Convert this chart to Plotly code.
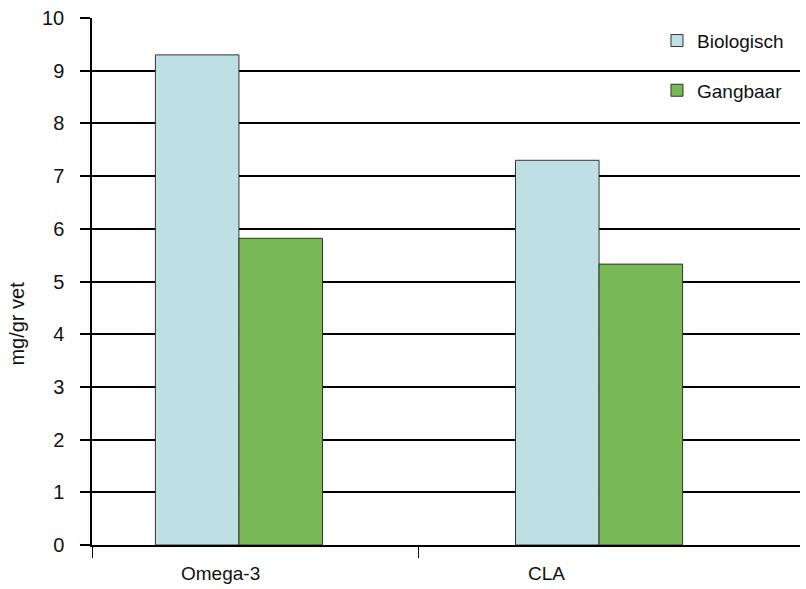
import plotly.graph_objects as go

# Fatty acid content per gram of fat, organic vs conventional
categories = ["Omega-3", "CLA"]
biologisch = [9.3, 7.3]
gangbaar = [5.82, 5.33]
y_ticks = list(range(0, 11))
y_title = "mg/gr vet"

FONT = "Liberation Sans, Arial, sans-serif"

pos = list(range(len(categories)))

fig = go.Figure()
fig.add_trace(go.Bar(
    x=pos, y=biologisch, name="Biologisch", legendgroup="a",
    marker=dict(color="#BEE0E4", line=dict(color="#333333", width=1)),
))
fig.add_trace(go.Bar(
    x=pos, y=gangbaar, name="Gangbaar", legendgroup="b",
    marker=dict(color="#79B955", line=dict(color="#333333", width=1)),
))

x_lo, x_hi = -0.408, 1.558

# category names sit slightly left of their bar groups
label_pos = [-0.05, 0.853]
for p, name in zip(label_pos, categories):
    fig.add_annotation(x=p, y=0, xref="x", yref="y", text=name, showarrow=False,
                       yanchor="top", yshift=-16, font=dict(family=FONT, size=19, color="#111111"))

# vertical axis title, left of the tick labels
fig.add_annotation(x=-0.106, y=4.2, xref="paper", yref="y", xanchor="center", yanchor="middle",
                   text=y_title, textangle=-90, showarrow=False,
                   font=dict(family=FONT, size=20, color="#111111"))

fig.update_layout(
    width=806, height=589,
    margin=dict(l=92, r=6, t=18, b=44),
    paper_bgcolor="white", plot_bgcolor="white",
    barmode="group", bargap=0.536, bargroupgap=0,
    font=dict(family=FONT, size=19, color="#111111"),
    legend=dict(x=0.798, y=0.993, xanchor="left", yanchor="top",
                bgcolor="rgba(0,0,0,0)", traceorder="grouped", tracegroupgap=22,
                font=dict(family=FONT, size=19, color="#111111")),
    xaxis=dict(range=[x_lo, x_hi], tickmode="array", tickvals=[x_lo, 0.5], ticktext=["", ""],
               ticks="outside", ticklen=11, tickcolor="black", tickwidth=1,
               showline=True, linecolor="black", linewidth=1.5,
               showgrid=False, zeroline=False),
    yaxis=dict(range=[0, 10], tickmode="array", tickvals=y_ticks,
               ticks="outside", ticklen=10, tickcolor="black", tickwidth=1.5,
               ticklabelstandoff=12,
               showline=True, linecolor="black", linewidth=1.5,
               showgrid=True, gridcolor="black", gridwidth=1.5, zeroline=False,
               tickfont=dict(family=FONT, size=20)),
)

fig.write_html("out.html")
